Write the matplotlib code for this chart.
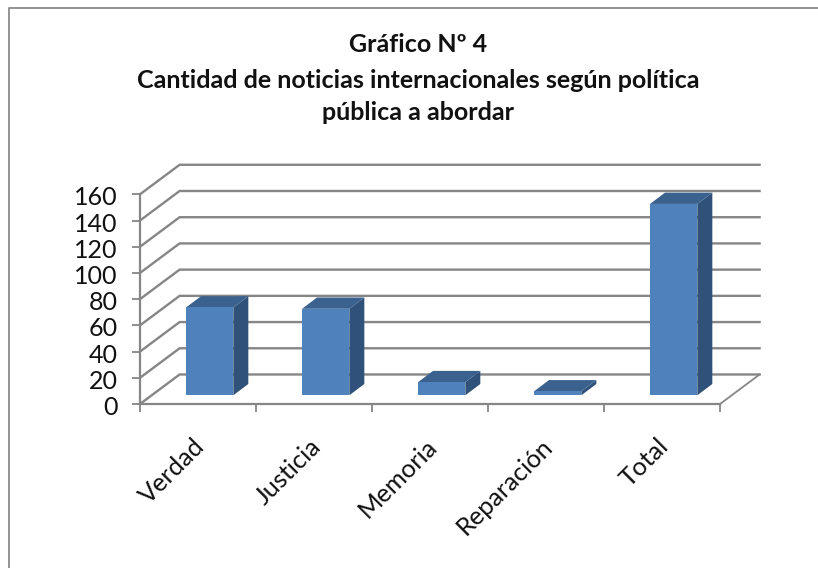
import matplotlib
matplotlib.use('Agg')
import matplotlib.pyplot as plt
from matplotlib.patches import Polygon
from matplotlib.lines import Line2D
from matplotlib.transforms import ScaledTranslation

categories = ['Verdad', 'Justicia', 'Memoria', 'Reparación', 'Total']
values = [67, 66, 10, 3, 146]
y_ticks = [0, 20, 40, 60, 80, 100, 120, 140, 160]
title_lines = ['Gráfico Nº 4',
               'Cantidad de noticias internacionales según política',
               'pública a abordar']

W, H = 818, 568
GRID = '#868686'
FRONT = '#4F81BD'
SIDE = '#30527A'
TOP = '#3B628F'

plt.rcParams['font.family'] = ['Lato', 'DejaVu Sans']
fig = plt.figure(figsize=(W / 100, H / 100), dpi=100, facecolor='white')

# front plane of the fake 3d box, in pixels of the figure
ax = fig.add_axes([140 / W, 1 - 404 / H, 580 / W, 209.7 / H])
ax.set_xlim(0, 5)
ax.set_ylim(0, 160)
ax.patch.set_visible(False)
for s in ['top', 'right']:
    ax.spines[s].set_visible(False)
for s in ['left', 'bottom']:
    ax.spines[s].set_color(GRID)
    ax.spines[s].set_linewidth(1.6)

ax.set_yticks(y_ticks)
ax.tick_params(axis='y', length=6, width=1.3, color=GRID, labelsize=18, pad=10, labelcolor='#111111')
ax.set_xticks(range(6))
ax.set_xticklabels([])
ax.tick_params(axis='x', which='major', length=6, width=1.3, color=GRID)
ax.set_xticks([i + 0.5 for i in range(5)], minor=True)
ax.set_xticklabels(categories, minor=True, rotation=45, ha='right', rotation_mode='anchor',
                   fontsize=18.3, color='#111111')
ax.tick_params(axis='x', which='minor', length=0, pad=22)

# nudge the labels a few pixels
for lab in ax.get_xticklabels(minor=True):
    lab.set_transform(lab.get_transform() + ScaledTranslation(-5 / 100, 0, fig.dpi_scale_trans))
for lab in ax.get_yticklabels():
    lab.set_transform(lab.get_transform() + ScaledTranslation(0, -1.5 / 100, fig.dpi_scale_trans))

# depth of the box and of the bars, in data units
depth_x = 39.6 / 116
depth_y = 29.5 / 1.31
bar_dx = 15 / 116
bar_dy = 11.3 / 1.31
bar_w = 47.3 / 116
pos = 0.295

# walls
for t in y_ticks:
    ax.plot([0, depth_x, 5 + depth_x], [t, t + depth_y, t + depth_y], color=GRID, lw=1.7,
            clip_on=False, zorder=1, solid_joinstyle='miter')
ax.plot([5, 5 + depth_x], [0, depth_y], color=GRID, lw=1.3, clip_on=False, zorder=1)

# bars
base = pos * depth_y
for i, v in enumerate(values):
    x0 = i + 0.5 + pos * depth_x - bar_w / 2
    x1 = x0 + bar_w
    top = base + v
    ax.add_patch(Polygon([(x1, base), (x1 + bar_dx, base + bar_dy), (x1 + bar_dx, top + bar_dy), (x1, top)],
                         facecolor=SIDE, edgecolor='none', clip_on=False, zorder=3))
    ax.add_patch(Polygon([(x0, top), (x0 + bar_dx, top + bar_dy), (x1 + bar_dx, top + bar_dy), (x1, top)],
                         facecolor=TOP, edgecolor='none', clip_on=False, zorder=3))
    ax.bar(x0, v, width=bar_w, bottom=base, align='edge', color=FRONT, clip_on=False, zorder=4)

# title
for line, y in zip(title_lines, [44, 81, 112]):
    fig.text(418 / W, 1 - y / H, line, ha='center', va='center', fontsize=18,
             fontweight='bold', color='#111111')

# chart border, only left and top are inside the crop
fig.add_artist(Line2D([8.5 / W, 8.5 / W, 1], [0, 1 - 7.5 / H, 1 - 7.5 / H], color='#8a8a8a', lw=1.3))

fig.savefig('out.png', dpi=100)
